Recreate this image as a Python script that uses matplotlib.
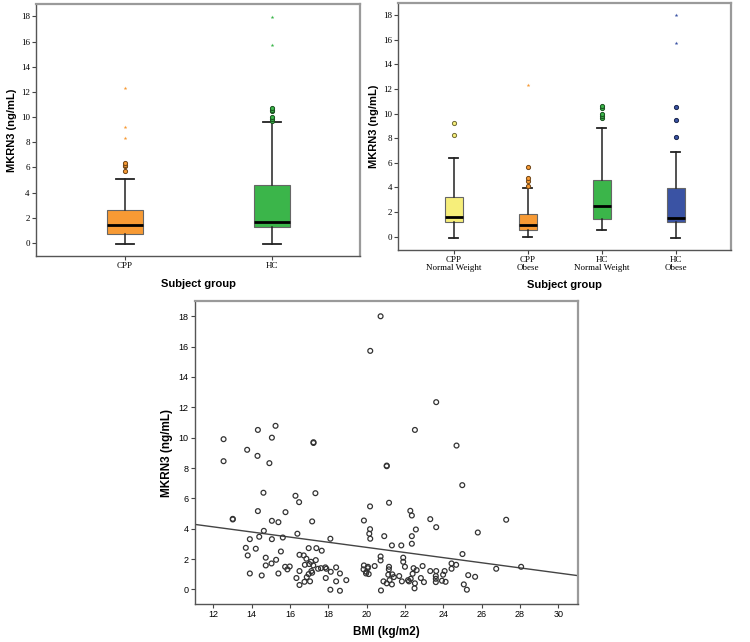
import numpy as np
import matplotlib.pyplot as plt

# ---- data ----
# panel A: CPP vs HC
groups_a = ["CPP", "HC"]
colors_a = ["#F79A34", "#3BB54A"]
whislo_a = [-0.1, -0.1]
q1_a = [0.75, 1.25]
med_a = [1.41, 1.70]
q3_a = [2.60, 4.60]
whishi_a = [5.05, 9.60]
circles_a = [[5.7, 6.1, 6.2, 6.35], [9.7, 9.85, 10.0, 10.45, 10.6, 10.75]]
stars_a = [[8.3, 9.2, 12.3], [15.7, 17.95]]

# panel B: split by weight
groups_b = ["CPP\nNormal Weight", "CPP\nObese", "HC\nNormal Weight", "HC\nObese"]
colors_b = ["#F6EE7A", "#F79A34", "#3BB54A", "#3A53A4"]
whislo_b = [-0.08, -0.05, 0.57, -0.1]
q1_b = [1.24, 0.54, 1.46, 1.24]
med_b = [1.64, 0.95, 2.53, 1.56]
q3_b = [3.26, 1.88, 4.60, 3.94]
whishi_b = [6.36, 3.96, 8.80, 6.85]
circles_b = [[8.25, 9.2], [4.1, 4.5, 4.8, 5.65], [9.6, 9.8, 10.0, 10.45, 10.65], [8.1, 9.45, 10.5]]
stars_b = [[], [12.3], [], [15.7, 18.0]]

# panel C: BMI vs MKRN3
bmi = [20.73, 20.19, 23.63, 15.25, 14.33, 22.52, 12.54, 15.06, 17.23, 17.23, 13.77, 24.69,
       14.31, 12.54, 14.93, 21.05, 21.05, 24.99, 14.62, 17.33, 16.29, 16.48, 21.17, 20.18,
       14.33, 22.28, 15.77, 22.36, 13.02, 13.02, 23.32, 27.28, 19.86, 15.06, 15.40, 17.16,
       23.63, 20.18, 22.57, 14.64, 25.80, 16.39, 20.14, 14.40, 20.92, 22.36, 15.63, 13.91,
       15.06, 18.11, 20.19, 21.32, 21.81, 22.36, 13.70, 16.98, 17.38, 14.22, 17.66, 15.53,
       13.80, 16.50, 16.72, 25.00, 14.74, 16.86, 20.73, 21.91, 15.28, 17.35, 20.73, 21.91,
       15.04, 17.10, 24.43, 24.67, 28.06, 26.76, 14.74, 15.75, 15.99, 15.87, 19.86, 20.07,
       20.42, 21.17, 22.00, 22.92, 22.45, 16.78, 17.01, 17.22, 17.47, 17.62, 17.85, 18.41,
       17.90, 19.84, 20.06, 21.16, 23.32, 23.63, 24.07, 24.43, 13.91, 15.40, 14.53, 16.50,
       17.12, 16.98, 17.16, 18.13, 18.61, 19.97, 22.61, 22.40, 21.34, 21.13, 21.70, 21.42,
       23.61, 23.61, 23.99, 25.30, 25.66, 16.34, 16.88, 17.87, 18.94, 22.83, 22.16, 22.30,
       16.76, 17.05, 18.41, 20.88, 21.20, 21.84, 22.21, 22.99, 23.61, 23.93, 24.12, 16.50,
       21.05, 21.32, 22.52, 25.07, 18.11, 18.61, 20.75, 22.50, 25.23, 19.99, 20.11]
mkrn3 = [18.00, 15.72, 12.34, 10.78, 10.51, 10.51, 9.90, 10.00, 9.65, 9.70, 9.20, 9.48,
         8.80, 8.45, 8.32, 8.12, 8.16, 6.87, 6.37, 6.34, 6.17, 5.75, 5.71, 5.47,
         5.16, 5.18, 5.09, 4.87, 4.61, 4.65, 4.63, 4.59, 4.54, 4.52, 4.43, 4.48,
         4.10, 3.97, 3.95, 3.86, 3.75, 3.67, 3.67, 3.47, 3.51, 3.51, 3.42, 3.31,
         3.31, 3.34, 3.34, 2.90, 2.90, 3.01, 2.74, 2.72, 2.72, 2.68, 2.55, 2.50,
         2.24, 2.28, 2.24, 2.33, 2.09, 2.02, 2.17, 2.09, 1.95, 1.93, 1.91, 1.82,
         1.71, 1.82, 1.71, 1.62, 1.49, 1.36, 1.58, 1.49, 1.51, 1.32, 1.58, 1.49,
         1.54, 1.49, 1.49, 1.54, 1.40, 1.62, 1.67, 1.58, 1.36, 1.40, 1.45, 1.45,
         1.36, 1.32, 1.40, 1.32, 1.21, 1.21, 1.21, 1.36, 1.05, 1.05, 0.92, 1.21,
         1.21, 1.01, 1.10, 1.16, 1.05, 1.05, 1.27, 1.03, 0.99, 0.97, 0.88, 0.81,
         0.88, 0.70, 0.97, 0.94, 0.83, 0.75, 0.81, 0.75, 0.61, 0.75, 0.61, 0.70,
         0.50, 0.53, 0.53, 0.53, 0.61, 0.53, 0.53, 0.48, 0.48, 0.57, 0.50, 0.29,
         0.40, 0.33, 0.40, 0.33, -0.02, -0.09, -0.07, 0.07, -0.02, 1.16, 1.01]
fit_intercept = 6.15
fit_slope = -0.169

serif = "Liberation Serif"
sans = "Liberation Sans"


def darker(c, f=0.6):
    r, g, b = [int(c[i:i + 2], 16) / 255 for i in (1, 3, 5)]
    return (r * f, g * f, b * f)


def style_frame(ax):
    for s in ax.spines.values():
        s.set_color("#9a9a9a")
        s.set_linewidth(1.6)
    ax.spines["left"].set_color("#555555")
    ax.spines["bottom"].set_color("#555555")
    ax.spines["left"].set_linewidth(1.0)
    ax.spines["bottom"].set_linewidth(1.0)


def box_panel(ax, labels, colors, wlo, q1, med, q3, whi, circ, stars, width):
    n = len(labels)
    pos = np.arange(1, n + 1)
    stats = [dict(med=med[i], q1=q1[i], q3=q3[i], whislo=wlo[i], whishi=whi[i], fliers=[])
             for i in range(n)]
    bp = ax.bxp(stats, positions=pos, widths=width, patch_artist=True, showfliers=False,
                capwidths=width / 2,
                medianprops=dict(color="black", linewidth=2.0),
                whiskerprops=dict(color="#222222", linewidth=1.1),
                capprops=dict(color="#222222", linewidth=1.3),
                boxprops=dict(edgecolor="#666666", linewidth=0.8))
    for patch, c in zip(bp["boxes"], colors):
        patch.set_facecolor(c)
    for i in range(n):
        if circ[i]:
            ax.scatter([pos[i]] * len(circ[i]), circ[i], s=9, marker="o",
                       facecolor=colors[i], edgecolor=darker(colors[i], 0.45),
                       linewidth=0.7, zorder=3)
        if stars[i]:
            ax.scatter([pos[i]] * len(stars[i]), stars[i], s=8, marker="*",
                       color=colors[i], linewidth=0, zorder=3)
    ax.set_xlim(0.25 if n == 4 else 0.393, n + 0.75 if n == 4 else 2.60)
    ax.set_ylim(-1.05, 19)
    ax.set_yticks(np.arange(0, 19, 2))
    ax.set_xticks(pos)
    ax.set_xticklabels(labels, fontfamily=serif, fontsize=6.5, linespacing=1.0)
    for t in ax.get_yticklabels():
        t.set_fontfamily(serif)
        t.set_fontsize(6.5)
    ax.tick_params(axis="both", length=3, width=0.8, color="#444444", pad=1.5)
    ax.set_xlabel("Subject group", fontfamily=sans, fontweight="bold", fontsize=8, labelpad=6)
    ax.set_ylabel("MKRN3 (ng/mL)", fontfamily=sans, fontweight="bold", fontsize=8, labelpad=3)
    style_frame(ax)


fig = plt.figure(figsize=(7.5, 6.42), dpi=100)

ax1 = fig.add_axes([0.048, 0.601, 0.432, 0.393])
box_panel(ax1, groups_a, colors_a, whislo_a, q1_a, med_a, q3_a, whishi_a,
          circles_a, stars_a, 0.25)

ax2 = fig.add_axes([0.531, 0.611, 0.444, 0.385])
box_panel(ax2, groups_b, colors_b, whislo_b, q1_b, med_b, q3_b, whishi_b,
          circles_b, stars_b, 0.24)

ax3 = fig.add_axes([0.26, 0.059, 0.510, 0.472])
ax3.scatter(bmi, mkrn3, s=12, marker="o", facecolor="none", edgecolor="#333333",
            linewidth=0.9, zorder=3)
xs = np.array([11.05, 31.0])
ax3.plot(xs, fit_intercept + fit_slope * xs, color="#444444", linewidth=1.0, zorder=2)
ax3.set_xlim(11.05, 31.0)
ax3.set_ylim(-0.97, 19)
ax3.set_xticks(np.arange(12, 31, 2))
ax3.set_yticks(np.arange(0, 19, 2))
for t in ax3.get_xticklabels() + ax3.get_yticklabels():
    t.set_fontfamily(sans)
    t.set_fontsize(6.5)
ax3.tick_params(axis="both", length=3, width=0.8, color="#444444", pad=1.5)
ax3.set_xlabel("BMI (kg/m2)", fontfamily=sans, fontweight="bold", fontsize=8.5, labelpad=5)
ax3.set_ylabel("MKRN3 (ng/mL)", fontfamily=sans, fontweight="bold", fontsize=8.5, labelpad=4)
style_frame(ax3)

fig.savefig("out.png", dpi=100)
